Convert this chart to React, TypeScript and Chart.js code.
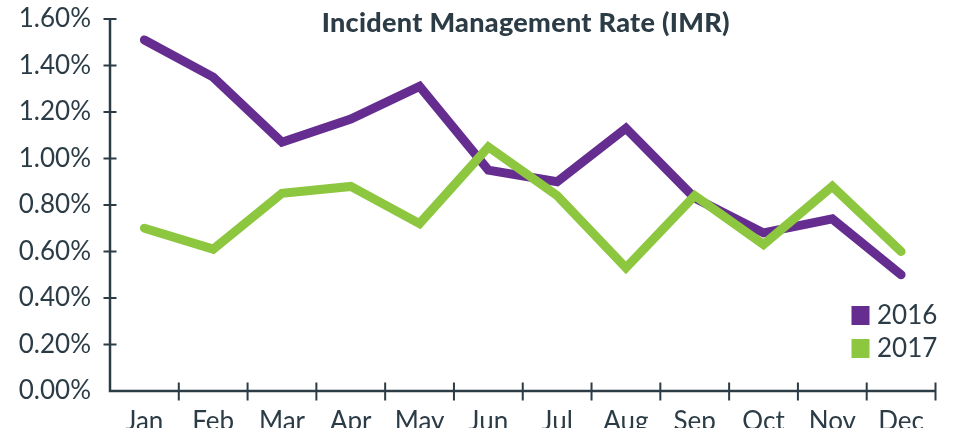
import React, { useEffect, useRef } from "react";
import { Chart, registerables } from "chart.js";

Chart.register(...registerables);

const months = ["Jan", "Feb", "Mar", "Apr", "May", "Jun", "Jul", "Aug", "Sep", "Oct", "Nov", "Dec"];
const imr2016 = [1.51, 1.35, 1.07, 1.17, 1.31, 0.95, 0.9, 1.13, 0.83, 0.68, 0.74, 0.5];
const imr2017 = [0.7, 0.61, 0.85, 0.88, 0.72, 1.05, 0.84, 0.53, 0.84, 0.63, 0.88, 0.6];
const seriesNames = ["2016", "2017"];
const yMin = 0;
const yMax = 1.6;
const yStep = 0.2;
const chartTitle = "Incident Management Rate (IMR)";

const PURPLE = "#662d91";
const GREEN = "#8dc63f";
const INK = "#2c3c46";
const FONT = "Lato, 'Open Sans', sans-serif";
const TICK_SIZE = 26;

const axesPlugin = {
  id: "crossAxes",
  beforeDatasetsDraw(chart: any) {
    const { ctx, chartArea: a, scales } = chart;
    const xs = scales.x;
    const ys = scales.y;
    const y0 = ys.getPixelForValue(yMin);
    const yTop = ys.getPixelForValue(yMax);
    ctx.save();
    ctx.strokeStyle = INK;
    ctx.lineWidth = 2.5;
    ctx.beginPath();
    ctx.moveTo(a.left, yTop);
    ctx.lineTo(a.left, y0);
    ctx.lineTo(a.right, y0);
    ctx.stroke();
    ctx.lineWidth = 2;
    ctx.beginPath();
    ys.ticks.forEach((t: any) => {
      if (t.value === yMin) return;
      const p = ys.getPixelForValue(t.value);
      ctx.moveTo(a.left - 6.5, p);
      ctx.lineTo(a.left + 6.5, p);
    });
    const half = (xs.getPixelForValue(1) - xs.getPixelForValue(0)) / 2;
    months.forEach((_, i) => {
      const p = xs.getPixelForValue(i) + half;
      ctx.moveTo(p, y0 - 8.5);
      ctx.lineTo(p, y0 + 9.5);
    });
    ctx.stroke();
    ctx.restore();
  },
};

const titlePlugin = {
  id: "innerTitle",
  afterDraw(chart: any) {
    const { ctx, chartArea: a } = chart;
    ctx.save();
    ctx.font = `900 27px ${FONT}`;
    try {
      (ctx as any).letterSpacing = "0.3px";
    } catch (e) {}
    ctx.fillStyle = INK;
    ctx.textAlign = "center";
    ctx.textBaseline = "alphabetic";
    ctx.fillText(chartTitle, (a.left + a.right) / 2 + 3, 32);
    ctx.restore();
  },
};

const legendPlugin = {
  id: "cornerLegend",
  afterDraw(chart: any) {
    const { ctx, chartArea: a } = chart;
    ctx.save();
    ctx.font = `${TICK_SIZE}px ${FONT}`;
    ctx.textBaseline = "middle";
    ctx.textAlign = "left";
    chart.data.datasets.forEach((ds: any, i: number) => {
      const bx = a.right - 84;
      const by = a.bottom - 85 + i * 33;
      ctx.fillStyle = ds.borderColor;
      ctx.fillRect(bx, by, 18, 19);
      ctx.fillStyle = INK;
      ctx.fillText(ds.label, bx + 25.5, by + 10);
    });
    ctx.restore();
  },
};

export default function App() {
  const canvasRef = useRef<HTMLCanvasElement | null>(null);

  useEffect(() => {
    if (!canvasRef.current) return;
    const chart = new Chart(canvasRef.current, {
      type: "line",
      data: {
        labels: months,
        datasets: [
          {
            label: seriesNames[0],
            data: imr2016,
            borderColor: PURPLE,
            backgroundColor: PURPLE,
            borderWidth: 9,
            pointRadius: 0,
            tension: 0,
            borderCapStyle: "round",
            borderJoinStyle: "miter",
            fill: false,
            order: 2,
          },
          {
            label: seriesNames[1],
            data: imr2017,
            borderColor: GREEN,
            backgroundColor: GREEN,
            borderWidth: 9,
            pointRadius: 0,
            tension: 0,
            borderCapStyle: "round",
            borderJoinStyle: "miter",
            fill: false,
            order: 1,
          },
        ],
      },
      options: {
        responsive: true,
        maintainAspectRatio: false,
        animation: false,
        layout: { padding: { left: 0, right: 17.5, top: 19, bottom: 0 } },
        plugins: {
          legend: { display: false },
          title: { display: false },
          tooltip: { enabled: false },
        },
        scales: {
          x: {
            type: "category",
            offset: true,
            grid: { display: false, drawTicks: false },
            border: { display: false },
            ticks: {
              color: INK,
              font: { family: FONT, size: TICK_SIZE },
              padding: 15,
              maxRotation: 0,
              autoSkip: false,
            },
            afterFit: (s: any) => {
              s.height = 37;
              s.paddingLeft = 0;
              s.paddingRight = 0;
            },
          },
          y: {
            min: yMin,
            max: yMax,
            grid: { display: false, drawTicks: false },
            border: { display: false },
            ticks: {
              stepSize: yStep,
              color: INK,
              font: { family: FONT, size: TICK_SIZE },
              padding: 19,
              callback: (v: any) => Number(v).toFixed(2) + "%",
            },
            afterFit: (s: any) => {
              s.width = 110;
              s.paddingTop = 0;
              s.paddingBottom = 0;
            },
          },
        },
      },
      plugins: [axesPlugin, titlePlugin, legendPlugin],
    } as any);
    return () => chart.destroy();
  }, []);

  return (
    <div style={{ position: "absolute", left: 0, top: 0, width: 953, height: 428 }}>
      <canvas ref={canvasRef} style={{ display: "block" }} />
    </div>
  );
}
